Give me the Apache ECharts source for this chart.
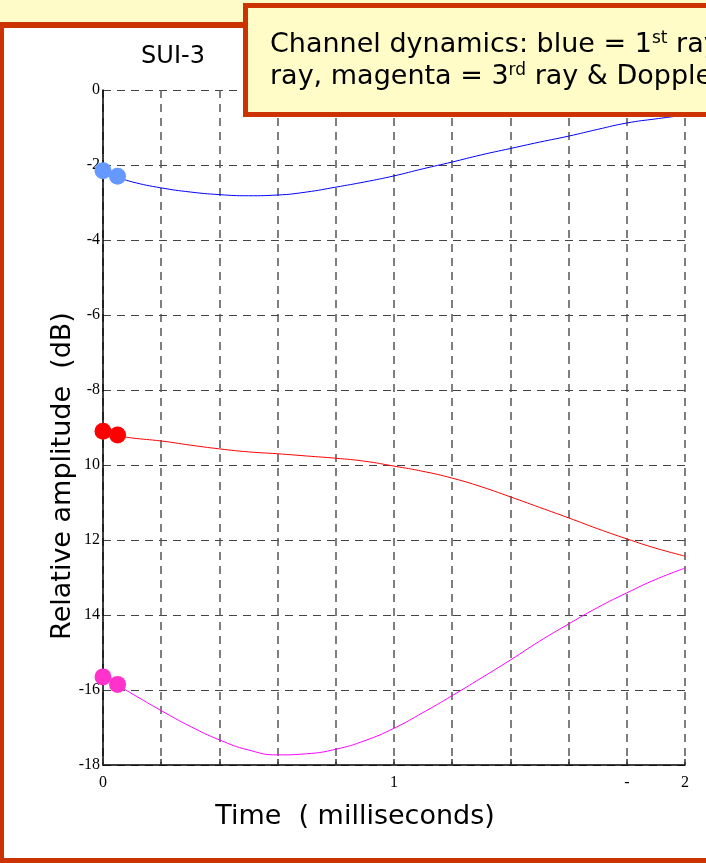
<!DOCTYPE html>
<html>
<head>
<meta charset="utf-8">
<script src="https://cdn.jsdelivr.net/npm/echarts@6/dist/echarts.min.js"></script>
<style>
html,body{margin:0;padding:0;background:#FFFBC8;}
#panel{position:absolute;left:-2px;top:22px;width:800px;height:830px;background:#fff;border:6px solid #CC3300;border-right:none;}
#chart{position:absolute;left:0;top:0;width:706px;height:863px;}
</style>
</head>
<body>
<div id="panel"></div>
<div id="chart"></div>
<script>
// ---- data ----
const dotTimes = [0, 0.05];
const blueDots = [-2.15, -2.3];
const redDots = [-9.1, -9.2];
const magentaDots = [-15.65, -15.85];

const lineTimes = [0.05, 0.1, 0.2, 0.3, 0.4, 0.5, 0.6, 0.7, 0.8, 0.9, 1.0, 1.1, 1.2, 1.3, 1.4, 1.5, 1.6, 1.7, 1.8, 1.9, 2.0];
const blueLine = [-2.32, -2.45, -2.61, -2.72, -2.79, -2.82, -2.8, -2.72, -2.59, -2.45, -2.29, -2.1, -1.92, -1.73, -1.56, -1.39, -1.23, -1.05, -0.88, -0.77, -0.67];
const redLine = [-9.22, -9.28, -9.36, -9.47, -9.57, -9.65, -9.7, -9.76, -9.82, -9.9, -10.03, -10.17, -10.35, -10.58, -10.85, -11.13, -11.41, -11.7, -11.97, -12.22, -12.43];
const magentaLine = [-15.87, -16.1, -16.55, -16.97, -17.33, -17.6, -17.73, -17.7, -17.58, -17.35, -17.02, -16.6, -16.15, -15.68, -15.2, -14.7, -14.24, -13.8, -13.41, -13.05, -12.75];

const xTickValues = [0, 1, 1.8, 2];
const xTickText = ['0', '1', '-', '2'];
const yTickValues = [0, -2, -4, -6, -8, -10, -12, -14, -16, -18];
const yTickText = ['0', '-2', '-4', '-6', '-8', '10', '12', '14', '-16', '-18'];

const titleText = 'SUI-3';
const xName = 'Time  ( milliseconds)';
const yName = 'Relative amplitude  (dB)';

// ---- build ----
function pairs(xs, ys) { return xs.map((x, i) => [x, ys[i]]); }
function lookup(vals, texts, v) {
  for (let i = 0; i < vals.length; i++) if (Math.abs(vals[i] - v) < 1e-6) return texts[i];
  return '';
}
const serif = 'Liberation Serif, Times New Roman, serif';
const sans = 'DejaVu Sans, Verdana, sans-serif';

const chart = echarts.init(document.getElementById('chart'), null, {renderer: 'canvas'});
chart.setOption({
  backgroundColor: 'transparent',
  animation: false,
  grid: {left: 103, top: 90, width: 582, height: 675},
  xAxis: {
    type: 'value', min: 0, max: 2, interval: 0.2,
    axisLine: {show: true, onZero: false, lineStyle: {color: '#000', width: 1.5}},
    axisTick: {show: true, inside: true, length: 6, lineStyle: {color: '#333', width: 1.5}},
    splitLine: {show: true, lineStyle: {color: '#555', type: [8, 6], width: 1.5}},
    axisLabel: {
      margin: 10, color: '#000', fontFamily: serif, fontSize: 16,
      formatter: v => lookup(xTickValues, xTickText, v)
    }
  },
  yAxis: {
    type: 'value', min: -18, max: 0, interval: 2,
    axisLine: {show: true, onZero: false, lineStyle: {color: '#000', width: 1.5}},
    axisTick: {show: false},
    splitLine: {show: true, lineStyle: {color: '#444', type: [8, 6], width: 1.2}},
    axisLabel: {
      margin: 3, color: '#000', fontFamily: serif, fontSize: 16,
      formatter: v => lookup(yTickValues, yTickText, v)
    }
  },
  series: [
    {type: 'line', data: pairs(lineTimes, blueLine), smooth: true, showSymbol: false, lineStyle: {color: '#0000FF', width: 1}, z: 3},
    {type: 'line', data: pairs(lineTimes, redLine), smooth: true, showSymbol: false, lineStyle: {color: '#FF0000', width: 1}, z: 3},
    {type: 'line', data: pairs(lineTimes, magentaLine), smooth: true, showSymbol: false, lineStyle: {color: '#FF00FF', width: 1}, z: 3},
    {type: 'scatter', data: pairs(dotTimes, blueDots), symbolSize: 17, itemStyle: {color: '#6699FF', opacity: 1}, z: 4},
    {type: 'scatter', data: pairs(dotTimes, redDots), symbolSize: 17, itemStyle: {color: '#FF0000', opacity: 1}, z: 4},
    {type: 'scatter', data: pairs(dotTimes, magentaDots), symbolSize: 17, itemStyle: {color: '#FF33CC', opacity: 1}, z: 4}
  ],
  graphic: [
    {type: 'text', x: 173, y: 57, style: {text: titleText, font: '24px ' + sans, fill: '#000', textAlign: 'center', textVerticalAlign: 'middle'}},
    {type: 'text', x: 355, y: 817, style: {text: xName, font: '27px ' + sans, fill: '#000', textAlign: 'center', textVerticalAlign: 'middle'}},
    {type: 'text', x: 63, y: 476, rotation: Math.PI / 2, style: {text: yName, font: '27px ' + sans, fill: '#000', textAlign: 'center', textVerticalAlign: 'middle'}},
    {type: 'rect', z: 100, shape: {x: 245.5, y: 5.5, width: 600, height: 109}, style: {fill: '#FFFCC8', stroke: '#CC3300', lineWidth: 5}},
    {type: 'text', z: 101, x: 270, y: 45, style: {
      text: '{n|Channel dynamics: blue = 1}{s|st}{n| ray, red = 2}{s|nd}',
      textVerticalAlign: 'middle',
      rich: {n: {fontSize: 27, fontFamily: sans, color: '#000'},
             s: {fontSize: 17, fontFamily: sans, color: '#000', verticalAlign: 'top', padding: [0, 0, 12, 0]}}
    }},
    {type: 'text', z: 101, x: 270, y: 77, style: {
      text: '{n|ray, magenta = 3}{s|rd}{n| ray & Doppler spread}',
      textVerticalAlign: 'middle',
      rich: {n: {fontSize: 27, fontFamily: sans, color: '#000'},
             s: {fontSize: 17, fontFamily: sans, color: '#000', verticalAlign: 'top', padding: [0, 0, 12, 0]}}
    }}
  ]
});
</script>
</body>
</html>
